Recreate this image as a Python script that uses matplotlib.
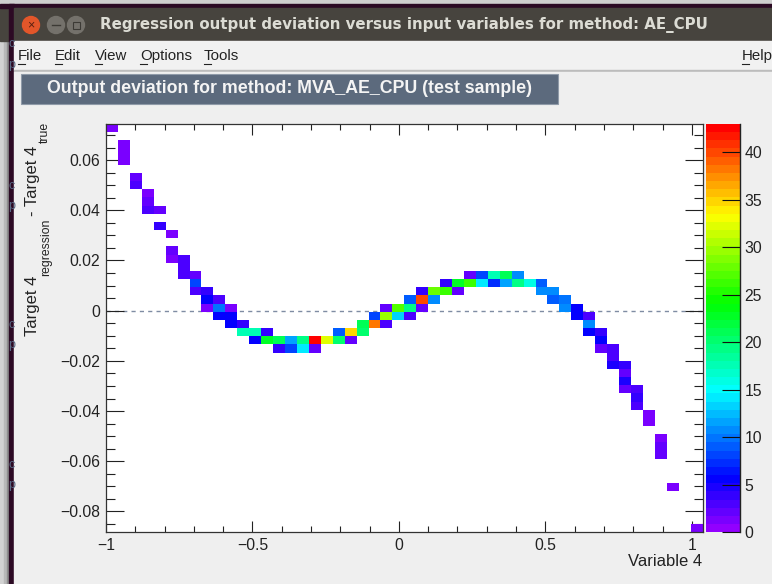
#!/usr/bin/env python3
"""TMVA regression deviation plot, as seen in its ROOT canvas window."""
import colorsys

import matplotlib
matplotlib.use("Agg")
import matplotlib.pyplot as plt
import numpy as np
from matplotlib.colors import ListedColormap, Normalize
from matplotlib.patches import Circle, Rectangle
from matplotlib.ticker import MultipleLocator

plt.rcParams["font.family"] = ["Liberation Sans", "DejaVu Sans"]

W, H = 772, 584

# ── Histogram cells: column from the left, row from the top, entries ─────────
BIN_COL = [0, 1, 1, 1, 2, 2, 3, 3, 3, 4, 4, 5, 5, 5, 6, 6, 6, 7, 7, 7, 8, 8, 8,
           9, 9, 9, 10, 10, 10, 11, 11, 12, 12, 13, 13, 14, 14, 15, 15, 16, 16,
           17, 17, 18, 19, 19, 20, 20, 21, 21, 22, 22, 23, 23, 23, 24, 24,
           25, 25, 25, 26, 26, 26, 27, 27, 28, 28, 29, 29, 30, 30, 31, 31,
           32, 32, 33, 33, 34, 34, 35, 36, 36, 37, 37, 38, 38, 39, 39, 40, 40, 40,
           41, 41, 41, 42, 42, 42, 43, 43, 43, 43, 44, 44, 44,
           45, 45, 46, 46, 46, 47, 49]
BIN_ROW = [0, 2, 3, 4, 6, 7, 8, 9, 10, 10, 12, 13, 15, 16, 16, 17, 18, 18, 19, 20, 20, 21, 22,
           21, 22, 23, 22, 23, 24, 24, 25, 25, 26, 25, 26, 26, 27, 26, 27, 26, 27,
           26, 27, 26, 26, 25, 26, 25, 25, 24, 24, 23, 24, 23, 22, 23, 22,
           23, 22, 21, 22, 21, 20, 21, 20, 20, 19, 20, 19, 19, 18, 19, 18,
           19, 18, 19, 18, 19, 18, 19, 19, 20, 20, 21, 21, 22, 22, 23, 23, 24, 25,
           25, 26, 27, 27, 28, 29, 29, 30, 31, 32, 32, 33, 34,
           35, 36, 38, 39, 40, 44, 49]
BIN_COUNT = [1, 1, 1, 1, 2, 3, 1, 2, 3, 2, 4, 1, 2, 1, 3, 3, 3, 2, 8, 3, 4, 6, 1,
             3, 10, 6, 1, 6, 6, 4, 18, 18, 6, 4, 23, 21, 4, 12, 8, 19, 14,
             43, 2, 32, 20, 9, 2, 35, 20, 21, 38, 8, 3, 30, 2, 13, 27,
             3, 19, 9, 2, 40, 4, 11, 28, 26, 4, 2, 23, 26, 2, 14, 8,
             7, 18, 12, 21, 19, 11, 16, 9, 11, 11, 9, 10, 11, 6, 6, 3, 11, 6,
             4, 6, 2, 3, 3, 5, 4, 2, 5, 2, 3, 4, 3,
             1, 1, 1, 2, 2, 1, 1]

X_TICKS = [-1, -0.5, 0, 0.5, 1]
Y_TICKS = [-0.08, -0.06, -0.04, -0.02, 0, 0.02, 0.04, 0.06]
Z_TICKS = [0, 5, 10, 15, 20, 25, 30, 35, 40]
X_LIM = (-1.0, 1.0369)
Y_LIM = (-0.08829, 0.07438)
Z_LIM = (0, 43)
N_BINS = 50
MENU_NAMES = ["File", "Edit", "View", "Options", "Tools", "Help"]
MENU_X = [18, 55, 95, 140, 204, 742]


def tick_text(v):
    return f"{v:g}".replace("-", "\u2212")


def root_rainbow():
    # gStyle->SetPalette(1): 50 hues running from violet down to red
    hues = [280 - (i + 1) * 280 / 50 for i in range(50)]
    return ListedColormap([colorsys.hls_to_rgb(h / 360, 0.5, 1.0) for h in hues])


def axes_box(left, top, right, bottom):
    return [left / W, 1 - bottom / H, (right - left) / W, (bottom - top) / H]


def draw_window(bg):
    # desktop and neighbouring window behind the ROOT canvas
    bg.add_patch(Rectangle((0, 0), 4, H, color="#d2d2d2"))
    bg.add_patch(Rectangle((4, 0), 3, H, color="#b8b8b8"))
    bg.add_patch(Rectangle((7, 0), 2, H, color="#8e8e8e"))
    bg.add_patch(Rectangle((0, 0), W, 4, color="#cfcfcf"))
    bg.add_patch(Rectangle((0, 8), 9, 33, color="#47443e"))
    bg.add_patch(Rectangle((0, 4), W, 4, color="#2c0a24"))
    bg.add_patch(Rectangle((9, 4), 5, H, color="#2c0a24"))
    for y in [44, 65, 186, 206, 325, 345, 465, 485]:
        bg.text(12, y, "c" if y in (44, 186, 325, 465) else "p", color="#5a6a85",
                fontsize=9, ha="center", va="center")

    # title bar
    bg.add_patch(Rectangle((14, 8), W, 33, color="#47443e"))
    bg.add_patch(Circle((31, 25), 8.5, color="#e2562a"))
    bg.text(31, 25, "\u00d7", color="#5a2010", fontsize=9, ha="center", va="center")
    bg.add_patch(Circle((56, 25), 8.5, color="#74716b"))
    bg.plot([52, 60], [25, 25], color="#3c3a35", lw=1)
    bg.add_patch(Circle((76, 25), 8.5, color="#74716b"))
    bg.add_patch(Rectangle((72.5, 21.5), 7, 7, fill=False, ec="#3c3a35", lw=0.8))
    bg.text(100, 25, "Regression output deviation versus input variables for method: AE_CPU",
            color="#dcdcd4", fontsize=10.85, fontweight="bold", family="DejaVu Sans",
            ha="left", va="center")

    # menu bar
    bg.add_patch(Rectangle((14, 41), W, 29, color="#f1f1f1"))
    bg.add_patch(Rectangle((14, 70), W, 2, color="#bcbcbc"))
    bg.add_patch(Rectangle((14, 72), W, H, color="#efefef"))
    for name, x in zip(MENU_NAMES, MENU_X):
        bg.text(x, 56, name, color="#222222", fontsize=10.8, ha="left", va="center")
        bg.plot([x, x + 7], [63.5, 63.5], color="#222222", lw=0.8)

    # header button of the TMVA canvas
    bg.add_patch(Rectangle((21, 74), 537, 30, fc="#5c6a7d", ec="#8f9aa8", lw=0.8))
    bg.text(47, 88.5, "Output deviation for method: MVA_AE_CPU (test sample)",
            color="#f4f4f4", fontsize=12.8, fontweight="bold", ha="left", va="center")


def draw_axis_titles(bg):
    # rotated y title is set piece by piece so the subscripts sit where ROOT puts them
    ink = "#222222"
    bg.text(33, 336, "Target 4", rotation=90, fontsize=12, color=ink, ha="center", va="bottom")
    bg.text(46, 276, "regression", rotation=90, fontsize=8.8, color=ink, ha="center", va="bottom")
    bg.text(33, 216, "- Target 4", rotation=90, fontsize=12, color=ink, ha="center", va="bottom")
    bg.text(45, 143, "true", rotation=90, fontsize=8.8, color=ink, ha="center", va="bottom")
    bg.text(702, 562, "Variable 4", fontsize=12, color=ink, ha="right", va="center")


def main():
    fig = plt.figure(figsize=(W / 100, H / 100), dpi=100, facecolor="#efefef")

    bg = fig.add_axes([0, 0, 1, 1], zorder=-1)
    bg.set_xlim(0, W)
    bg.set_ylim(H, 0)
    bg.axis("off")
    draw_window(bg)
    draw_axis_titles(bg)

    counts = np.full((N_BINS, N_BINS), np.nan)
    for col, row, n in zip(BIN_COL, BIN_ROW, BIN_COUNT):
        counts[row, col] = n
    x_edges = np.linspace(X_LIM[0], X_LIM[1], N_BINS + 1)
    y_edges = np.linspace(Y_LIM[1], Y_LIM[0], N_BINS + 1)

    ax = fig.add_axes(axes_box(106, 124, 702.6, 532.3), facecolor="white")
    ax.axhline(0, color="#7f8ca3", lw=1.0, ls=(0, (3, 3)), zorder=1)
    mesh = ax.pcolormesh(x_edges, y_edges, np.ma.masked_invalid(counts), cmap=root_rainbow(),
                         norm=Normalize(*Z_LIM), zorder=2)
    ax.set_xlim(*X_LIM)
    ax.set_ylim(*Y_LIM)

    ax.set_xticks(X_TICKS, [tick_text(v) for v in X_TICKS])
    ax.set_yticks(Y_TICKS, [tick_text(v) for v in Y_TICKS])
    ax.xaxis.set_minor_locator(MultipleLocator(0.1))
    ax.yaxis.set_minor_locator(MultipleLocator(0.005))
    ax.tick_params(axis="x", which="major", direction="in", top=True, length=8, width=0.8,
                   labelsize=11.3, pad=4, color="#222222", labelcolor="#222222")
    ax.tick_params(axis="x", which="minor", direction="in", top=True, length=4, width=0.8, color="#222222")
    ax.tick_params(axis="y", which="major", direction="in", right=True, length=13, width=0.8,
                   labelsize=11.3, pad=4, color="#222222", labelcolor="#222222")
    ax.tick_params(axis="y", which="minor", direction="in", right=True, length=6.5, width=0.8, color="#222222")
    for spine in ax.spines.values():
        spine.set_linewidth(0.9)
        spine.set_color("#333333")
        spine.set_zorder(5)

    cax = fig.add_axes(axes_box(705.5, 124, 740.3, 532.3))
    cbar = fig.colorbar(mesh, cax=cax, ticks=Z_TICKS)
    cbar.ax.tick_params(direction="in", length=13, width=0.8, labelsize=11.3, pad=3,
                        color="#111111", labelcolor="#222222")
    cbar.outline.set_visible(False)
    cax.plot([1, 1], [0, 1], transform=cax.transAxes, color="#222222", lw=1.0, clip_on=False)

    fig.savefig("out.png", dpi=100)
    plt.close(fig)


if __name__ == "__main__":
    main()
